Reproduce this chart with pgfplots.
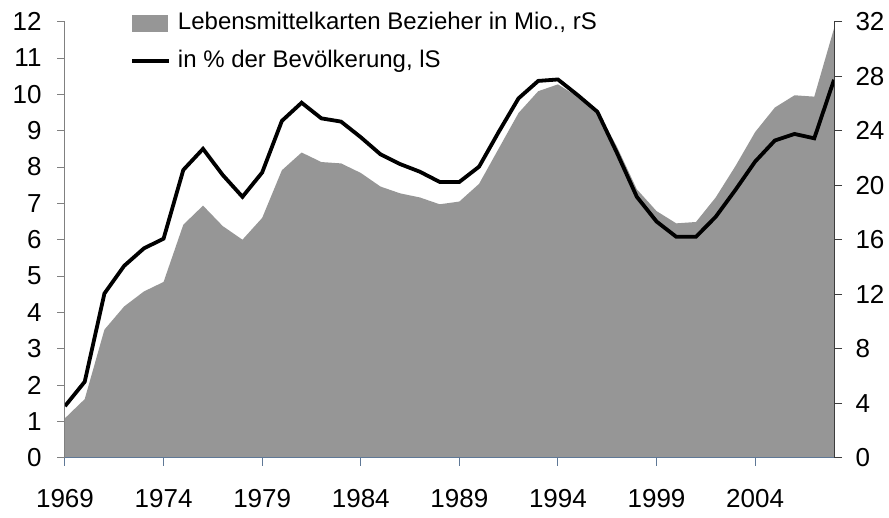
\documentclass[border=0pt]{standalone}
\usepackage{pgfplots}
\pgfplotsset{compat=1.18}
\usepackage{pgfplotstable}
\usepackage{fontspec}
\setmainfont{Liberation Sans}
\definecolor{areagray}{RGB}{150,150,150}
\definecolor{axblue}{RGB}{95,120,150}
\definecolor{axgray}{RGB}{128,128,128}
\definecolor{axdark}{RGB}{60,60,60}
\pgfplotstableread{
year pct mio
1969 1.42 2.9
1970 2.09 4.3
1971 4.52 9.4
1972 5.28 11.1
1973 5.76 12.2
1974 6.03 12.9
1975 7.92 17.1
1976 8.50 18.5
1977 7.78 17.0
1978 7.18 16.0
1979 7.85 17.6
1980 9.27 21.1
1981 9.77 22.4
1982 9.34 21.7
1983 9.25 21.6
1984 8.82 20.9
1985 8.35 19.9
1986 8.08 19.4
1987 7.87 19.1
1988 7.59 18.6
1989 7.59 18.8
1990 8.01 20.1
1991 8.97 22.7
1992 9.89 25.3
1993 10.37 26.9
1994 10.41 27.4
1995 9.98 26.5
1996 9.52 25.5
1997 8.38 22.8
1998 7.18 19.7
1999 6.50 18.1
2000 6.08 17.2
2001 6.08 17.3
2002 6.63 19.1
2003 7.37 21.4
2004 8.15 23.9
2005 8.73 25.7
2006 8.91 26.6
2007 8.79 26.5
2008 10.40 31.5
}\data
\begin{document}
\begin{tikzpicture}
\useasboundingbox (-65pt,-59.3pt) rectangle (824pt,457.7pt);
\pgfplotsset{
  common/.style={
    width=769pt, height=436pt, scale only axis,
    at={(0pt,0pt)}, anchor=south west,
    xmin=1969, xmax=2008, ymin=0,
    tick align=outside, major tick length=8pt,
    tick label style={font=\fontsize{26}{30}\selectfont},
    /pgf/number format/assume math mode=true,
    /pgf/number format/1000 sep={},
  }
}
% right axis: area in millions
\begin{axis}[common,
  ymax=32, ytick={0,4,...,32},
  axis y line*=right, axis x line*=bottom,
  axis on top,
  xtick={1969,1974,...,2004},
  x axis line style={axblue, line width=1pt, -},
  y axis line style={axdark, line width=1pt, -},
  xtick style={axblue, line width=1pt},
  ytick style={axdark, line width=1pt},
  xticklabel style={yshift=-20pt},
  yticklabel style={xshift=10pt},
]
\addplot[fill=areagray, draw=none] table[x=year, y=mio]{\data} \closedcycle;
\end{axis}
% left axis: line in percent
\begin{axis}[common,
  ymax=12, ytick={0,1,...,12},
  axis y line*=left, axis x line=none,
  y axis line style={axgray, line width=1pt, -},
  ytick style={axgray, line width=1pt},
  yticklabel style={xshift=-12pt},
  legend cell align=left,
  legend style={
    at={(axis description cs:0.0845,1.022)}, anchor=north west,
    draw=none, fill=none, inner sep=0pt,
    font=\fontsize{24}{28}\selectfont,
    row sep=16pt,
    nodes={inner sep=0pt, text height=17pt, text depth=5pt},
    /tikz/every odd column/.append style={column sep=7pt},
  },
]
\addlegendimage{legend image code/.code={\fill[areagray] (0pt,-8pt) rectangle (35pt,8pt);}}
\addlegendentry{Lebensmittelkarten Bezieher in Mio., rS}
\addplot[black, line width=3.8pt, line join=miter,
  legend image code/.code={\draw[black, line width=3.8pt] (0pt,0pt) -- (37pt,0pt);}]
  table[x=year, y=pct]{\data};
\addlegendentry{in \% der Bevölkerung, lS}
\end{axis}
\end{tikzpicture}
\end{document}
